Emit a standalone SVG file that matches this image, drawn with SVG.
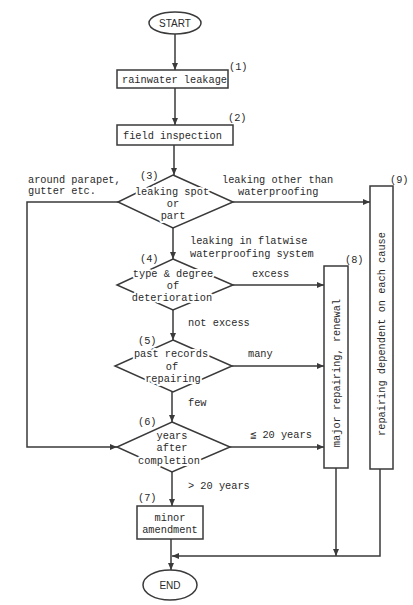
<svg xmlns="http://www.w3.org/2000/svg" width="413" height="605" viewBox="0 0 413 605">
<style>
.ln{fill:none;stroke:#3a3a3a;stroke-width:1.5}
.bx{fill:#fff;stroke:#3a3a3a;stroke-width:1.5}
.t{font-family:"Liberation Mono","DejaVu Sans Mono",monospace;font-size:10.3px;fill:#2a2a2a}
.h{stroke:#fff;stroke-width:4;paint-order:stroke;stroke-linejoin:round}
.m{text-anchor:middle}
.s{font-family:"Liberation Sans",Arial,sans-serif;font-size:10px;fill:#2a2a2a;text-anchor:middle}
</style>
<defs>
<marker id="ar" markerUnits="userSpaceOnUse" markerWidth="8" markerHeight="6" refX="7" refY="3" orient="auto">
<path d="M0,0 L7,3 L0,6 z" fill="#3a3a3a"/>
</marker>
</defs>
<rect width="413" height="605" fill="#fff"/>
<g id="connectors">
<line class="ln" x1="175" y1="34" x2="175" y2="70" marker-end="url(#ar)"/>
<line class="ln" x1="175" y1="88" x2="175" y2="125" marker-end="url(#ar)"/>
<line class="ln" x1="174" y1="145" x2="174" y2="175" marker-end="url(#ar)"/>
<line class="ln" x1="173" y1="228" x2="173" y2="259" marker-end="url(#ar)"/>
<line class="ln" x1="173" y1="310" x2="173" y2="340" marker-end="url(#ar)"/>
<line class="ln" x1="172" y1="392" x2="172" y2="422" marker-end="url(#ar)"/>
<line class="ln" x1="172" y1="472" x2="172" y2="506" marker-end="url(#ar)"/>
<line class="ln" x1="171" y1="539" x2="171" y2="570" marker-end="url(#ar)"/>
<polyline class="ln" points="118,202 27,202 27,447 117,447" marker-end="url(#ar)"/>
<line class="ln" x1="233" y1="202" x2="370" y2="202" marker-end="url(#ar)"/>
<line class="ln" x1="233" y1="285" x2="324" y2="285" marker-end="url(#ar)"/>
<line class="ln" x1="232" y1="366" x2="324" y2="366" marker-end="url(#ar)"/>
<line class="ln" x1="230" y1="447" x2="324" y2="447" marker-end="url(#ar)"/>
<line class="ln" x1="336" y1="468" x2="336" y2="556" marker-end="url(#ar)"/>
<polyline class="ln" points="380,469 380,556 172,556" marker-end="url(#ar)"/>
<text class="t" x="28" y="183">around parapet,</text>
<text class="t" x="28" y="194">gutter etc.</text>
<text class="t" x="222" y="183">leaking other than</text>
<text class="t" x="238" y="195">waterproofing</text>
<text class="t" x="190" y="244">leaking in flatwise</text>
<text class="t" x="190" y="257">waterproofing system</text>
<text class="t" x="252" y="277">excess</text>
<text class="t" x="188" y="326">not excess</text>
<text class="t" x="248" y="357">many</text>
<text class="t" x="188" y="406">few</text>
<text class="t" x="250" y="438">≦ 20 years</text>
<text class="t" x="188" y="489">&gt; 20 years</text>
</g>
<g id="start">
<ellipse class="bx" cx="175" cy="23" rx="26" ry="11"/>
<text class="s" x="175" y="27">START</text>
</g>
<g id="n1">
<rect class="bx" x="117" y="70" width="111" height="18"/>
<text class="t" x="122" y="82.5">rainwater leakage</text>
<text class="t" x="229" y="70">(1)</text>
</g>
<g id="n2">
<rect class="bx" x="117" y="125" width="116" height="20"/>
<text class="t" x="123" y="138.5">field inspection</text>
<text class="t" x="228" y="121">(2)</text>
</g>
<g id="n3">
<polygon class="bx" points="173,175 233,202 173,228 118,202"/>
<text class="t" x="140" y="179">(3)</text>
<text class="t m h" x="172" y="195">leaking spot</text>
<text class="t m h" x="173" y="206.5">or</text>
<text class="t m h" x="173" y="218.5">part</text>
</g>
<g id="n4">
<polygon class="bx" points="173,259 233,285 173,310 117,285"/>
<text class="t" x="140" y="262">(4)</text>
<text class="t m h" x="173" y="276.5">type &amp; degree</text>
<text class="t m h" x="173" y="288.5">of</text>
<text class="t m h" x="172" y="300.5">deterioration</text>
</g>
<g id="n5">
<polygon class="bx" points="173,340 232,366 173,392 115,366"/>
<text class="t" x="138" y="344">(5)</text>
<text class="t m h" x="171" y="356.5">past records</text>
<text class="t m h" x="172" y="369.5">of</text>
<text class="t m h" x="173" y="381.5">repairing</text>
</g>
<g id="n6">
<polygon class="bx" points="172,422 230,447 172,472 117,447"/>
<text class="t" x="138" y="424.5">(6)</text>
<text class="t m h" x="172" y="438.5">years</text>
<text class="t m h" x="172" y="450.5">after</text>
<text class="t m h" x="169" y="463.5">completion</text>
</g>
<g id="n7">
<rect class="bx" x="137" y="506" width="66" height="33"/>
<text class="t" x="138" y="500.5">(7)</text>
<text class="t m" x="170" y="520.5">minor</text>
<text class="t m" x="170" y="532.5">amendment</text>
</g>
<g id="n8">
<rect class="bx" x="324" y="266" width="24" height="202"/>
<text class="t" x="345" y="262.5">(8)</text>
<text class="t m" transform="translate(336,373) rotate(-90)" y="3.5">major repairing, renewal</text>
</g>
<g id="n9">
<rect class="bx" x="370" y="186" width="23" height="283"/>
<text class="t" x="390" y="182.5">(9)</text>
<text class="t m" transform="translate(381.5,334) rotate(-90)" y="3.5">repairing dependent on each cause</text>
</g>
<g id="end">
<ellipse class="bx" cx="170" cy="585" rx="27" ry="15"/>
<text class="s" x="170" y="589">END</text>
</g>
</svg>
